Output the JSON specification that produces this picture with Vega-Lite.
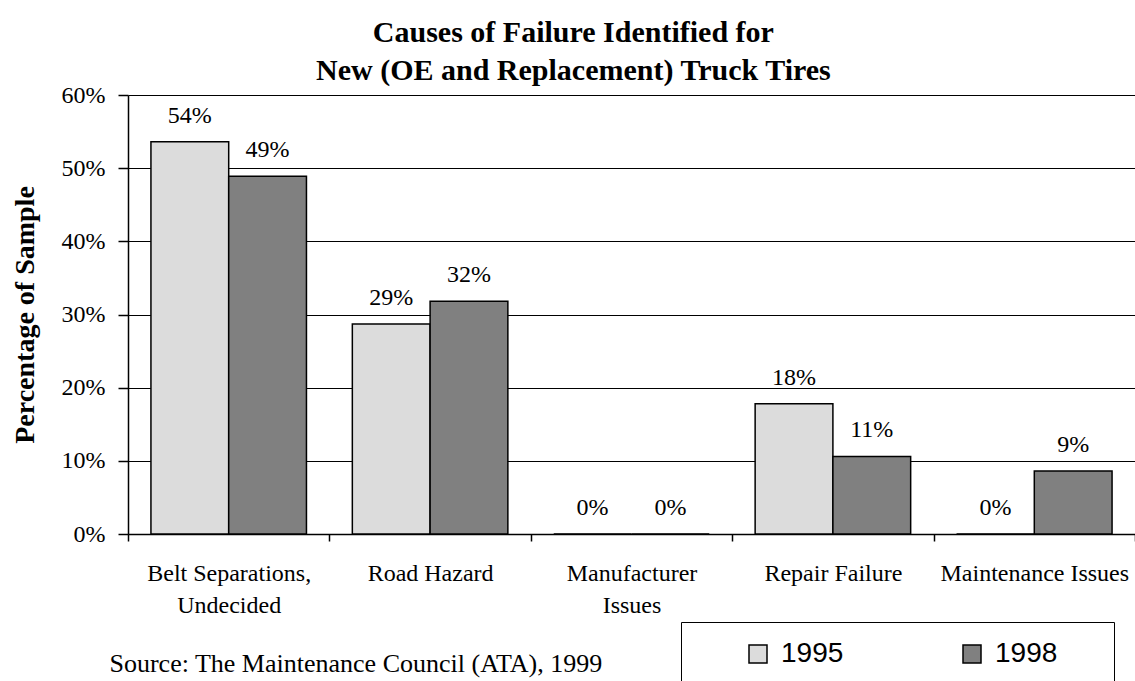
{
  "$schema": "https://vega.github.io/schema/vega-lite/v6.json",
  "width": 1007,
  "height": 439,
  "autosize": {"type": "none"},
  "padding": {"left": 128, "top": 95, "right": 0, "bottom": 147},
  "background": "white",
  "config": {"view": {"stroke": null}},
  "title": {
    "text": ["Causes of Failure Identified for", "New (OE and Replacement) Truck Tires"],
    "font": "Liberation Serif",
    "fontSize": 30,
    "fontWeight": "bold",
    "lineHeight": 38,
    "anchor": "middle",
    "frame": "bounds",
    "offset": -3,
    "color": "black"
  },
  "data": {
    "values": [
      {"cause": "Belt Separations, Undecided", "year": "1995", "value": 0.536},
      {"cause": "Belt Separations, Undecided", "year": "1998", "value": 0.489},
      {"cause": "Road Hazard", "year": "1995", "value": 0.287},
      {"cause": "Road Hazard", "year": "1998", "value": 0.318},
      {"cause": "Manufacturer Issues", "year": "1995", "value": 0},
      {"cause": "Manufacturer Issues", "year": "1998", "value": 0},
      {"cause": "Repair Failure", "year": "1995", "value": 0.178},
      {"cause": "Repair Failure", "year": "1998", "value": 0.106},
      {"cause": "Maintenance Issues", "year": "1995", "value": 0},
      {"cause": "Maintenance Issues", "year": "1998", "value": 0.086}
    ]
  },
  "encoding": {
    "x": {
      "field": "cause",
      "type": "nominal",
      "sort": ["Belt Separations, Undecided", "Road Hazard", "Manufacturer Issues", "Repair Failure", "Maintenance Issues"],
      "scale": {"paddingInner": 0, "paddingOuter": 0},
      "axis": {
        "title": "Source: The Maintenance Council (ATA), 1999",
        "titleFont": "Liberation Serif",
        "titleFontSize": 26,
        "titleFontWeight": "normal",
        "titleColor": "black",
        "titleX": -19,
        "titleY": 129,
        "titleAlign": "left",
        "titleBaseline": "middle",
        "titleAngle": 0,
        "labelAngle": 0,
        "labelFont": "Liberation Serif",
        "labelFontSize": 24,
        "labelColor": "black",
        "labelPadding": 20,
        "labelBaseline": "top",
        "labelLineHeight": 32,
        "labelLimit": 0,
        "labelExpr": "datum.value == 'Belt Separations, Undecided' ? ['Belt Separations,', 'Undecided'] : datum.value == 'Manufacturer Issues' ? ['Manufacturer', 'Issues'] : datum.value",
        "tickBand": "extent",
        "tickExtra": true,
        "tickSize": 7,
        "tickColor": "black",
        "tickWidth": 1.5,
        "domainColor": "black",
        "domainWidth": 1.5,
        "grid": false
      }
    },
    "xOffset": {
      "field": "year",
      "type": "nominal",
      "scale": {"paddingInner": 0, "paddingOuter": 0.295}
    },
    "y": {
      "field": "value",
      "type": "quantitative",
      "scale": {"domain": [0, 0.6], "nice": false},
      "axis": {
        "title": "Percentage of Sample",
        "titleFont": "Liberation Serif",
        "titleFontSize": 28,
        "titleFontWeight": "bold",
        "titleColor": "black",
        "titleX": -103,
        "titleY": 219.5,
        "titleAlign": "center",
        "titleBaseline": "middle",
        "titleAngle": -90,
        "format": ".0%",
        "values": [0, 0.1, 0.2, 0.3, 0.4, 0.5, 0.6],
        "labelFont": "Liberation Serif",
        "labelFontSize": 24,
        "labelColor": "black",
        "labelPadding": 13,
        "tickSize": 10,
        "tickColor": "black",
        "tickWidth": 1.5,
        "domainColor": "black",
        "domainWidth": 1.5,
        "grid": true,
        "gridColor": "black",
        "gridWidth": 1.2,
        "gridOpacity": 1
      }
    }
  },
  "layer": [
    {
      "mark": {"type": "bar", "stroke": "black", "strokeWidth": 1.5},
      "encoding": {
        "fill": {
          "field": "year",
          "type": "nominal",
          "scale": {"domain": ["1995", "1998"], "range": ["#dcdcdc", "#808080"]},
          "legend": {
            "title": "x",
            "titleOrient": "right",
            "titleOpacity": 0,
            "titleFontSize": 20,
            "titlePadding": 27,
            "orient": "none",
            "legendX": 553,
            "legendY": 527,
            "direction": "horizontal",
            "padding": 18,
            "strokeColor": "black",
            "fillColor": "white",
            "symbolType": "square",
            "symbolSize": 324,
            "symbolStrokeColor": "black",
            "symbolStrokeWidth": 1.5,
            "symbolOffset": 45,
            "labelOffset": 9,
            "labelFont": "Liberation Sans",
            "labelFontSize": 28,
            "labelColor": "black",
            "labelLimit": 0,
            "columnPadding": 69
          }
        }
      }
    },
    {
      "mark": {"type": "text", "baseline": "alphabetic", "dy": -19, "font": "Liberation Serif", "fontSize": 24, "color": "black"},
      "encoding": {
        "text": {"field": "value", "type": "quantitative", "format": ".0%"}
      }
    }
  ]
}
